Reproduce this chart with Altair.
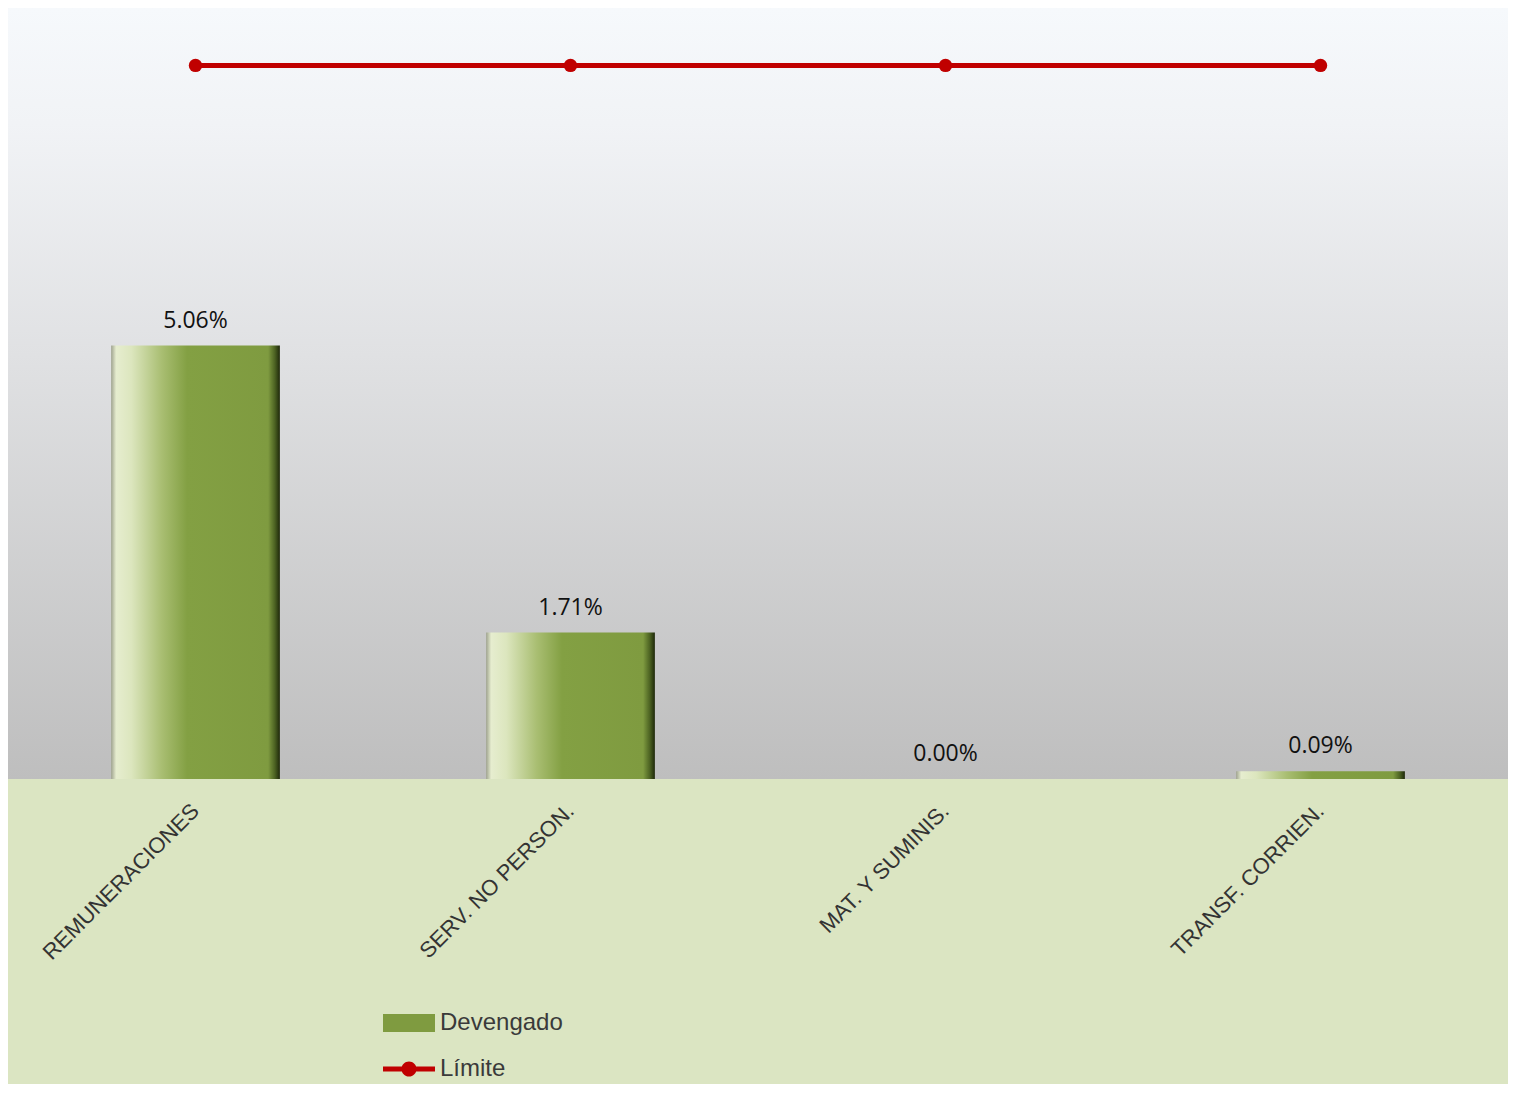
import altair as alt
import pandas as pd

categories = ["REMUNERACIONES", "SERV. NO PERSON.", "MAT. Y SUMINIS.", "TRANSF. CORRIEN."]
devengado = [5.06, 1.71, 0.00, 0.09]
limite = [8.33, 8.33, 8.33, 8.33]
series_names = ["Devengado", "Límite"]

rows = []
for c, d, l in zip(categories, devengado, limite):
    rows.append({"category": c, "series": "Devengado", "value": d})
    rows.append({"category": c, "series": "Límite", "value": l})
df = pd.DataFrame(rows)

W, H = 1500, 771

bar_gradient = {
    "gradient": "linear", "x1": 0, "x2": 1, "y1": 0, "y2": 0,
    "stops": [
        {"offset": 0.0, "color": "#9FA38F"},
        {"offset": 0.03, "color": "#E6EDCF"},
        {"offset": 0.12, "color": "#DCE6BE"},
        {"offset": 0.30, "color": "#A9BE72"},
        {"offset": 0.45, "color": "#83A043"},
        {"offset": 0.93, "color": "#7F9B40"},
        {"offset": 0.97, "color": "#4C6222"},
        {"offset": 1.0, "color": "#1E280A"},
    ],
}
bg_gradient = {
    "gradient": "linear", "x1": 0, "x2": 0, "y1": 0, "y2": 1,
    "stops": [
        {"offset": 0.0, "color": "#F6F9FC"},
        {"offset": 0.15, "color": "#F1F3F6"},
        {"offset": 0.45, "color": "#E0E1E3"},
        {"offset": 1.0, "color": "#BEBEBE"},
    ],
}

x_enc = alt.X(
    "category:N", sort=categories,
    scale=alt.Scale(paddingInner=0.55, paddingOuter=0.275),
    axis=alt.Axis(title=None, labelAngle=-45, labelAlign="right", labelBaseline="middle",
                  labelFont="Liberation Sans", labelFontSize=22, labelColor="#333333",
                  labelPadding=28, labelLimit=600, domain=False, ticks=False, grid=False),
)
y_enc = alt.Y("value:Q", scale=alt.Scale(domain=[0, 9]), axis=None)

bg = alt.Chart(pd.DataFrame({"a": [0]})).mark_rect(fill=bg_gradient).encode(
    x=alt.value(0), x2=alt.value("width"), y=alt.value(0), y2=alt.value("height")
)

base = alt.Chart(df)

bars = base.transform_filter(alt.datum.series == "Devengado").mark_bar(fill=bar_gradient).encode(
    x=x_enc, y=y_enc
)

labels = base.transform_filter(alt.datum.series == "Devengado").transform_calculate(
    label="format(datum.value, '.2f') + '%'"
).mark_text(font="Open Sans", fontSize=23, color="#111111", baseline="alphabetic", dy=-18).encode(
    x=x_enc, y=y_enc, text="label:N"
)

line = base.transform_filter(alt.datum.series == "Límite").mark_line(
    color="#C00000", strokeWidth=5
).encode(x=x_enc, y=y_enc)

dots = base.transform_filter(alt.datum.series == "Límite").mark_point(
    filled=True, size=180, opacity=1, color="#C00000"
).encode(x=x_enc, y=y_enc)

dev_path = "M-2,-0.69H2V0.69H-2Z"
lim_path = "M-2,-0.19H2V0.19H-2Z M-0.58,0A0.58,0.58 0 1,1 0.58,0A0.58,0.58 0 1,1 -0.58,0Z"

legend = alt.Legend(
    title=None, orient="none", legendX=388, legendY=1002, direction="vertical",
    labelFont="Liberation Sans", labelFontSize=24, labelColor="#3A3A3A",
    symbolSize=676, labelOffset=18, rowPadding=21, symbolStrokeWidth=0, symbolOpacity=1,
)

legend_layer = base.transform_filter("false").mark_point(filled=True, opacity=1).encode(
    x=x_enc, y=y_enc,
    color=alt.Color("series:N", scale=alt.Scale(domain=series_names, range=["#7F9B40", "#C00000"]),
                    legend=legend),
    shape=alt.Shape("series:N", scale=alt.Scale(domain=series_names, range=[dev_path, lim_path]),
                    legend=legend),
)

chart = alt.layer(bg, bars, labels, line, dots, legend_layer).properties(
    width=W, height=H,
    autosize=alt.AutoSizeParams(type="none"),
    padding={"left": 0, "top": 0, "right": 0, "bottom": 305},
    background="#DBE5C2",
).configure_view(stroke=None)

chart.save("out.html", embed_options={"renderer": "svg", "actions": False})
